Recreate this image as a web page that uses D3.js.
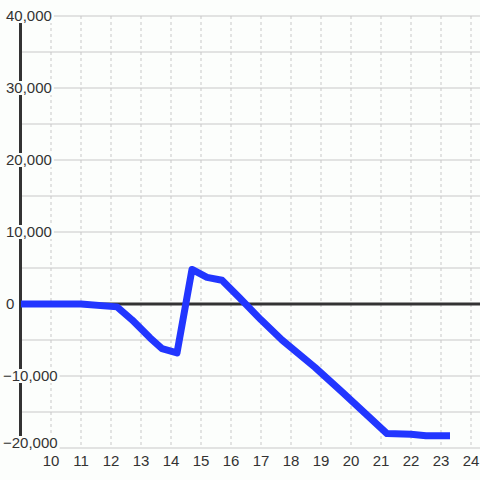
<!DOCTYPE html>
<html>
<head>
<meta charset="utf-8">
<script src="https://cdn.jsdelivr.net/npm/d3@7"></script>
<style>
  body { margin: 0; background: #fcfefc; }
  svg { display: block; font-family: "Liberation Sans", Arial, sans-serif; }
</style>
</head>
<body>
<div id="chart"></div>
<script>
const width = 480;
const height = 480;

// data
const xValues = [9, 11, 12.2, 12.7, 13.3, 13.7, 14.2, 14.7, 15.2, 15.7, 16.3, 17.0, 17.7, 18.8, 19.7, 20.5, 21.2, 22.0, 22.5, 23.3];
const yValues = [0, 0, -400, -2200, -4700, -6200, -6800, 4800, 3700, 3300, 800, -2200, -5000, -8800, -12200, -15300, -18000, -18100, -18300, -18300];
const xTicks = [10, 11, 12, 13, 14, 15, 16, 17, 18, 19, 20, 21, 22, 23, 24];
const yTicks = [-20000, -10000, 0, 10000, 20000, 30000, 40000];
const yMinorTicks = [-15000, -5000, 5000, 15000, 25000, 35000];

const data = xValues.map((x, i) => ({ x: x, y: yValues[i] }));

const bg = "#fcfefc";

const svg = d3.select("#chart")
    .append("svg")
    .attr("width", width)
    .attr("height", height);

svg.append("rect")
    .attr("width", width)
    .attr("height", height)
    .attr("fill", bg);

const xScale = d3.scaleLinear()
    .domain([9, 24])
    .range([21, 471]);

const yScale = d3.scaleLinear()
    .domain([-20000, 40000])
    .range([448, 16]);

// vertical dashed grid
svg.append("g")
    .selectAll("line")
    .data(xTicks)
    .join("line")
    .attr("x1", d => xScale(d))
    .attr("x2", d => xScale(d))
    .attr("y1", yScale(40000))
    .attr("y2", yScale(-20000))
    .attr("stroke", "#c8c8c8")
    .attr("stroke-width", 1)
    .attr("stroke-dasharray", "3,3");

// horizontal grid
svg.append("g")
    .selectAll("line")
    .data(yTicks.concat(yMinorTicks).filter(d => d !== 0))
    .join("line")
    .attr("x1", 20)
    .attr("x2", width)
    .attr("y1", d => yScale(d))
    .attr("y2", d => yScale(d))
    .attr("stroke", "#c8c8c8")
    .attr("stroke-width", 1);

// y axis line
svg.append("line")
    .attr("x1", 20.5)
    .attr("x2", 20.5)
    .attr("y1", yScale(40000))
    .attr("y2", yScale(-20000))
    .attr("stroke", "#333")
    .attr("stroke-width", 3);

// zero line
svg.append("line")
    .attr("x1", 20)
    .attr("x2", width)
    .attr("y1", yScale(0))
    .attr("y2", yScale(0))
    .attr("stroke", "#333")
    .attr("stroke-width", 3);

// y labels with background boxes
const fmt = d3.format(",");
const yLab = svg.append("g")
    .selectAll("g")
    .data(yTicks)
    .join("g")
    .attr("transform", d => {
        let y = yScale(d);
        if (d === -20000) y -= 5;
        return `translate(${d < 0 ? 3 : 6}, ${y})`;
    });

yLab.append("text")
    .attr("x", 0)
    .attr("dy", "0.36em")
    .attr("font-size", 15)
    .attr("fill", "#333")
    .text(d => fmt(d));

yLab.each(function() {
    const g = d3.select(this);
    const bb = g.select("text").node().getBBox();
    g.insert("rect", "text")
        .attr("x", bb.x - 1)
        .attr("y", -7)
        .attr("width", bb.width + 3)
        .attr("height", 14)
        .attr("fill", bg);
});

// x labels
svg.append("g")
    .selectAll("text")
    .data(xTicks)
    .join("text")
    .attr("x", d => xScale(d))
    .attr("y", 466)
    .attr("text-anchor", "middle")
    .attr("font-size", 15)
    .attr("fill", "#333")
    .text(d => d);

// series line
const line = d3.line()
    .x(d => xScale(d.x))
    .y(d => yScale(d.y));

svg.append("path")
    .datum(data)
    .attr("d", line)
    .attr("fill", "none")
    .attr("stroke", "#2236ff")
    .attr("stroke-width", 7)
    .attr("stroke-linejoin", "round")
    .attr("stroke-linecap", "butt");
</script>
</body>
</html>
